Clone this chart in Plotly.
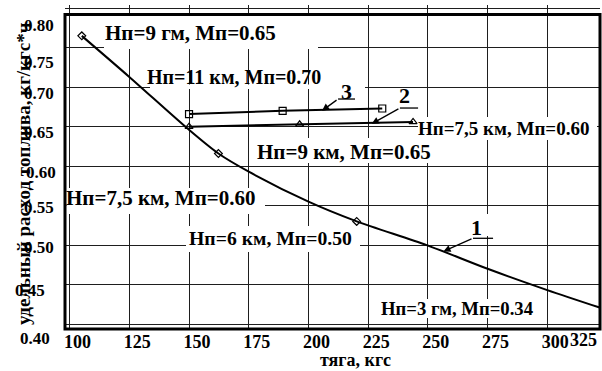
import plotly.graph_objects as go

# ---------------- data ----------------
# curve 1
c1_x = [105.1, 125, 150, 162.3, 175, 200, 220.2, 249.5, 275, 300, 322.8]
c1_y = [0.765, 0.713, 0.646, 0.616, 0.593, 0.555, 0.530, 0.500, 0.470, 0.443, 0.420]
c1_mark_x = [105.1, 162.3, 220.2]
c1_mark_y = [0.765, 0.616, 0.530]
# curve 2 (triangles)
c2_x = [150.0, 196.3, 243.8]
c2_y = [0.650, 0.653, 0.656]
# curve 3 (squares)
c3_x = [150.0, 189.2, 230.9]
c3_y = [0.666, 0.670, 0.673]

x_tick_vals = [100, 125, 150, 175, 200, 225, 250, 275, 300]
x_tick_text = ["100", "125", "150", "175", "200", "225", "250", "275", "300"]
x_extra_label = "325"
y_tick_vals = [0.40, 0.45, 0.50, 0.55, 0.60, 0.65, 0.70, 0.75, 0.80]
y_tick_text = ["0.40", "0.45", "0.50", "0.55", "0.60", "0.65", "0.70", "0.75", "0.80"]

x_title = "тяга, кгс"
y_title = "удельный расход топлива, кг/кгс*ч"

regime_labels = ["Нп=9 гм, Мп=0.65", "Нп=11 км, Мп=0.70", "Нп=7,5 км, Мп=0.60",
                 "Нп=9 км, Мп=0.65", "Нп=7,5 км, Мп=0.60", "Нп=6 км, Мп=0.50",
                 "Нп=3 гм, Мп=0.34"]
curve_numbers = ["1", "2", "3"]

# ---------------- styling / layout ----------------
FONT = "Liberation Serif"
W, H = 602, 371
ML, MR, MT, MB = 65, 2, 5, 42
PW, PH = W - ML - MR, H - MT - MB

def px_to_paper(px, py):
    return (px - ML) / PW, (H - MB - py) / PH

fig = go.Figure()

fig.add_trace(go.Scatter(x=c1_x, y=c1_y, mode="lines",
                         line=dict(color="black", width=2, shape="spline", smoothing=0.8),
                         showlegend=False, hoverinfo="skip"))
fig.add_trace(go.Scatter(x=c1_mark_x, y=c1_mark_y, mode="markers",
                         marker=dict(symbol="diamond-open", size=6, color="black",
                                     line=dict(width=1.2)),
                         showlegend=False))
fig.add_trace(go.Scatter(x=c2_x, y=c2_y, mode="lines+markers",
                         line=dict(color="black", width=2),
                         marker=dict(symbol="triangle-up-open", size=7, color="black",
                                     line=dict(width=1.2)),
                         showlegend=False))
fig.add_trace(go.Scatter(x=c3_x, y=c3_y, mode="lines+markers",
                         line=dict(color="black", width=2),
                         marker=dict(symbol="square-open", size=7, color="black",
                                     line=dict(width=1.2)),
                         showlegend=False))

shapes = []
# white backgrounds behind the text labels (pixel boxes)
boxes = [(104, 15.5, 318, 49), (150, 84.5, 365, 89), (418, 117, 597, 140),
         (251, 138, 436, 163), (66.5, 188, 265, 214), (186, 226, 360, 252),
         (380, 299, 536, 318), (468, 214, 492, 236)]
for (x0, y0, x1, y1) in boxes:
    a0, b1 = px_to_paper(x0, y0)
    a1, b0 = px_to_paper(x1, y1)
    shapes.append(dict(type="rect", xref="paper", yref="paper", x0=a0, x1=a1,
                       y0=b0, y1=b1, fillcolor="white", line=dict(width=0), layer="above"))

# leader bars beside the curve numbers (data coords)
leaders = [(212.4, 219.5, 0.685), (238.3, 245.9, 0.6736), (268.9, 277.3, 0.5086)]
for (xa, xb, yy) in leaders:
    shapes.append(dict(type="line", xref="x", yref="y", x0=xa, x1=xb, y0=yy, y1=yy,
                       line=dict(color="black", width=1.3), layer="above"))

# frame
_, top = px_to_paper(0, 14.5)
shapes.append(dict(type="rect", xref="paper", yref="paper", x0=0, x1=1, y0=0, y1=top,
                   line=dict(color="black", width=3), fillcolor="rgba(0,0,0,0)", layer="above"))

annotations = []
# regime labels: (x, y, font size)
label_pos = [(150.8, 0.7686, 21), (168.8, 0.7128, 20), (281.5, 0.6482, 19),
             (214.8, 0.6183, 21), (138.0, 0.5592, 21), (184.2, 0.5086, 19.7),
             (262.4, 0.4199, 18.7)]
for txt, (xx, yy, fs) in zip(regime_labels, label_pos):
    annotations.append(dict(x=xx, y=yy, xref="x", yref="y", text="<b>%s</b>" % txt,
                            xanchor="center", yanchor="middle",
                            showarrow=False, font=dict(family=FONT, size=fs, color="black")))

# curve numbers with arrows
num_pos = [(270.4, 0.5229), (240.4, 0.690), (215.9, 0.6951)]
arrows = [((256.5, 0.492), (268.9, 0.5086)),
          ((226.5, 0.6537), (238.3, 0.6736)),
          ((205.7, 0.6702), (212.4, 0.685))]
for txt, (xx, yy), (head, tail) in zip(curve_numbers, num_pos, arrows):
    annotations.append(dict(x=xx, y=yy, xref="x", yref="y", text="<b>%s</b>" % txt,
                            xanchor="center", yanchor="middle",
                            showarrow=False, font=dict(family=FONT, size=22, color="black")))
    annotations.append(dict(x=head[0], y=head[1], ax=tail[0], ay=tail[1],
                            xref="x", yref="y", axref="x", ayref="y", text="",
                            showarrow=True, arrowhead=2, arrowsize=1.1, arrowwidth=1.3,
                            arrowcolor="black", standoff=0, startstandoff=0))

# y tick labels (placed slightly off their gridlines, as in the picture)
y_label_shift = [-14, -5.5, -2, -1.5, -6, -5.5, -6.3, -14.3, -17.5]
y_label_dx = [-4, -9, 0, 0, 2, 0, 0, 0, 0]
xr, _ = px_to_paper(56, 0)
for v, t, s, dx in zip(y_tick_vals, y_tick_text, y_label_shift, y_label_dx):
    annotations.append(dict(x=xr, y=v, xref="paper", yref="y", text="<b>%s</b>" % t,
                            xanchor="right", yanchor="middle", showarrow=False,
                            yshift=s, xshift=dx,
                            font=dict(family=FONT, size=17, color="black")))

# extra x label at right end
ax325, ay325 = px_to_paper(583, 340)
annotations.append(dict(x=ax325, y=ay325, xref="paper", yref="paper",
                        text="<b>%s</b>" % x_extra_label, showarrow=False,
                        xanchor="center", yanchor="middle",
                        font=dict(family=FONT, size=18, color="black")))

# axis titles
tx, ty = px_to_paper(355, 360)
annotations.append(dict(x=tx, y=ty, xref="paper", yref="paper", text="<b>%s</b>" % x_title,
                        xanchor="center", yanchor="middle",
                        showarrow=False, font=dict(family=FONT, size=18, color="black")))
yx, yy_ = px_to_paper(23, 174)
annotations.append(dict(x=yx, y=yy_, xref="paper", yref="paper", text="<b>%s</b>" % y_title,
                        xanchor="center", yanchor="middle",
                        textangle=-90, showarrow=False,
                        font=dict(family=FONT, size=19, color="black")))

fig.update_layout(
    width=W, height=H, autosize=False,
    margin=dict(l=ML, r=MR, t=MT, b=MB, pad=0),
    paper_bgcolor="white", plot_bgcolor="white",
    shapes=shapes, annotations=annotations,
    xaxis=dict(range=[98.07, 322.07], tickvals=x_tick_vals, ticktext=["<b>%s</b>" % t for t in x_tick_text],
               showgrid=True, gridcolor="#1e1e1e", gridwidth=1.3, zeroline=False,
               showline=False, ticks="", ticklabelshift=8,
               tickfont=dict(family=FONT, size=18, color="black")),
    yaxis=dict(range=[0.3937, 0.8041], tickvals=y_tick_vals, showticklabels=False,
               showgrid=True, gridcolor="#1e1e1e", gridwidth=1.3, zeroline=False,
               showline=False, ticks=""),
)

fig.write_html("out.html", config={"displayModeBar": False},
               post_script="document.body.style.margin='0';")
